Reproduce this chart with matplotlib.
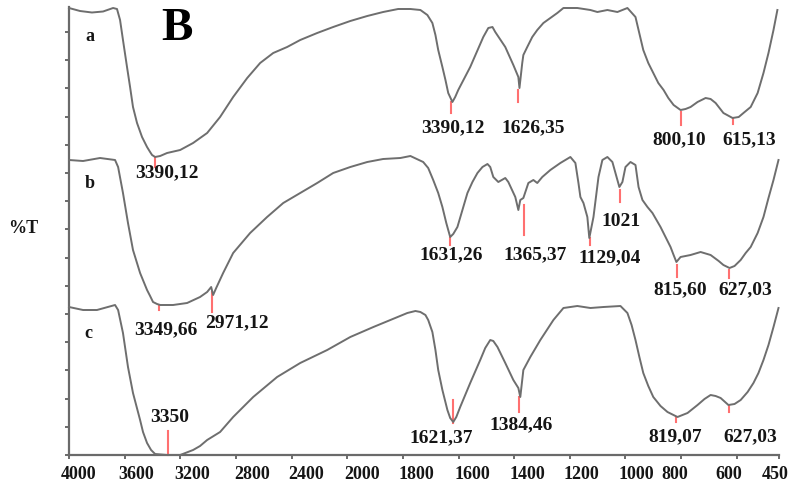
import numpy as np
import matplotlib
matplotlib.use("Agg")
import matplotlib.pyplot as plt
from matplotlib.transforms import ScaledTranslation

# ---- FTIR spectra: wavenumber (cm-1) and stacked transmittance (arbitrary units)
wn_a = [4000, 3921, 3835, 3755, 3683, 3655, 3633, 3612, 3583, 3561, 3540, 3511, 3475,
        3439, 3417, 3403, 3381, 3345, 3295, 3201, 3108, 3007, 2914, 2820, 2719, 2626,
        2532, 2432, 2338, 2216, 2101, 1989, 1928, 1871, 1817, 1773, 1737, 1712, 1694,
        1683, 1673, 1658, 1647, 1637, 1622, 1612, 1601, 1558, 1511, 1493, 1478, 1468,
        1432, 1403, 1385, 1381, 1371, 1367, 1353, 1335, 1317, 1295, 1270, 1245, 1223,
        1173, 1126, 1101, 1065, 1029, 993, 964, 953, 936, 918, 900, 882, 863, 846, 827,
        802, 784, 766, 741, 712, 694, 676, 648, 615, 593, 576, 550, 525, 504, 486, 468,
        454]
t_a = [447, 444, 442.5, 443.5, 447, 446, 435, 415, 388, 368, 348, 332, 318,
       308, 303, 300, 298, 299, 302, 305, 312, 322, 338, 358, 377, 392,
       402, 408, 415, 422, 428, 434, 439, 443, 446, 446, 445, 440, 432,
       420, 405, 388, 375, 362, 353, 358, 365, 388, 418, 427, 428, 423,
       408, 390, 378, 367, 392, 400, 408, 418, 425, 432, 437, 442, 447,
       447, 445, 443, 445, 443, 447, 438, 425, 405, 392, 382, 372, 365, 357, 350,
       345, 346, 348, 353, 357, 356, 352, 342, 337, 338, 342, 348, 362, 382, 402, 425,
       445]

wn_b = [4000, 3899, 3777, 3669, 3647, 3612, 3576, 3540, 3489, 3439, 3417, 3396, 3367,
        3345, 3252, 3151, 3058, 3007, 2978, 2964, 2942, 2892, 2820, 2698, 2576, 2460,
        2338, 2216, 2101, 1989, 1928, 1871, 1809, 1773, 1727, 1709, 1691, 1673, 1658,
        1644, 1630, 1619, 1604, 1586, 1568, 1550, 1532, 1514, 1496, 1486, 1475, 1457,
        1432, 1421, 1396, 1385, 1378, 1367, 1349, 1331, 1317, 1299, 1270, 1234, 1198,
        1180, 1169, 1162, 1151, 1137, 1130, 1115, 1097, 1083, 1065, 1047, 1036, 1022,
        1011, 1000, 982, 964, 953, 939, 921, 903, 874, 856, 838, 827, 817, 802, 766,
        730, 694, 665, 648, 626, 608, 586, 568, 550, 525, 504, 486, 468, 450]
t_b = [295, 294, 297, 295, 288, 262, 232, 205, 182, 165, 159, 153, 151,
       150, 150, 152, 158, 163, 168, 160, 167, 182, 202, 222, 238, 252,
       262, 272, 282, 288, 293, 296, 297, 299, 293, 287, 275, 262, 248,
       232, 218, 221, 228, 245, 262, 273, 282, 288, 291, 288, 278, 273,
       277, 273, 258, 245, 255, 257, 272, 275, 272, 278, 285, 292, 298,
       292, 272, 258, 252, 238, 217, 238, 278, 295, 298, 293, 282, 268,
       273, 288, 293, 290, 268, 255, 248, 242, 228, 218, 208, 200, 193, 198, 200,
       203, 200, 194, 190, 187, 189, 195, 202, 208, 222, 238, 257, 275, 295]

wn_c = [4000, 3899, 3799, 3669, 3647, 3612, 3576, 3540, 3489, 3468, 3439, 3410, 3381,
        3295, 3201, 3108, 3058, 3007, 2914, 2820, 2676, 2504, 2338, 2144, 1989, 1906,
        1845, 1784, 1755, 1737, 1719, 1709, 1694, 1683, 1673, 1658, 1640, 1630, 1619,
        1608, 1594, 1558, 1522, 1504, 1486, 1475, 1460, 1432, 1403, 1385, 1378, 1367,
        1342, 1306, 1259, 1223, 1173, 1126, 1079, 1018, 993, 978, 964, 950, 936, 918,
        900, 874, 849, 813, 777, 741, 716, 694, 676, 658, 630, 608, 586, 561, 540, 522,
        504, 486, 468, 450]
t_c = [148, 145, 145, 150, 145, 122, 88, 62, 35, 23, 12, 5, 1,
       0, 0, 5, 9, 15, 23, 38, 58, 78, 92, 105, 118, 128,
       135, 142, 144, 143, 140, 135, 123, 105, 85, 65, 45, 37, 33,
       38, 48, 72, 95, 107, 115, 114, 108, 92, 75, 67, 58, 85,
       98, 115, 135, 147, 149, 147, 148, 149, 142, 130, 115, 98, 82, 69,
       58, 49, 43, 38, 42, 50, 56, 60, 59, 57, 50, 51, 55, 63, 72, 82,
       95, 110, 128, 147]

# ---- assigned bands: marker position (cm-1) and printed label
peaks_a = [3381, 1626, 1385, 802, 615]
labels_a = ["3390,12", "3390,12", "1626,35", "800,10", "615,13"]
peaks_b = [3349.66, 2971.12, 1631.26, 1365.37, 1129.04, 1021, 815.60, 627.03]
labels_b = ["3349,66", "2971,12", "1631,26", "1365,37", "1129,04", "1021", "815,60", "627,03"]
peaks_c = [3290, 1621.37, 1384.46, 819.07, 627.03]
labels_c = ["3350", "1621,37", "1384,46", "819,07", "627,03"]

x_ticks = [4000, 3600, 3200, 2800, 2400, 2000, 1800, 1600, 1400, 1200, 1000, 800, 600, 450]

# ---- layout: marker spans (bottom, top) and label anchor (x, y) in data units
span_a = [(288, 298), (342, 353), (353, 365), (330, 343), (331, 337)]
text_a = [(3295, 282), (1619, 327), (1331, 327), (806, 315), (554, 315)]
span_b = [(145, 150), (143, 163), (210, 217), (220, 250), (210, 217), (253, 265), (178, 190), (177, 185)]
text_b = [(3302, 125), (2791, 132), (1626, 200), (1324, 200), (1058, 197), (1015, 234), (802, 165), (568, 165)]
span_c = [(0, 24), (32, 55), (43, 58), (33, 38), (43, 49)]
text_c = [(3273, 38), (1662, 17), (1374, 30), (820, 18), (550, 18)]
tick_shift_px = [10, 12, 12, 16, 15, 15, 14, 14, 13, 12, 11, -6, -8, -3]


def fwd(x):
    x = np.asarray(x, dtype=float)
    return np.where(x > 2000, 2000 + (x - 2000) / 2.0, x)


def inv(y):
    y = np.asarray(y, dtype=float)
    return np.where(y > 2000, 2000 + (y - 2000) * 2.0, y)


SERIF = "Liberation Serif"
LINE = "#6e6e6e"
RED = "#ff7070"
INK = "#151515"

fig = plt.figure(figsize=(7.88, 4.90), dpi=100)
ax = fig.add_axes([69 / 788, 35 / 490, 709.5 / 788, 448 / 490])
ax.set_xscale("function", functions=(fwd, inv))
ax.set_xlim(4000, 450)
ax.set_ylim(0, 448)

for wn, t in ((wn_a, t_a), (wn_b, t_b), (wn_c, t_c)):
    ax.plot(wn, t, color=LINE, lw=1.4, solid_joinstyle="round", clip_on=False, zorder=3)

for peaks, spans, texts, labels in ((peaks_a, span_a, text_a, labels_a),
                                    (peaks_b, span_b, text_b, labels_b),
                                    (peaks_c, span_c, text_c, labels_c)):
    for p, (y0, y1), (tx, ty), lab in zip(peaks, spans, texts, labels):
        ax.plot([p, p], [y0, y1], color=RED, lw=1.5, zorder=2, clip_on=False)
        ax.text(tx, ty, lab, ha="center", va="center", fontsize=14,
                fontfamily=SERIF, fontweight="bold", color=INK)

for name, (tx, ty) in zip("abc", [(3849, 419), (3849, 272), (3863, 122)]):
    ax.text(tx, ty, name, ha="center", va="center", fontsize=13,
            fontfamily=SERIF, fontweight="bold", color=INK)

for side in ("top", "right"):
    ax.spines[side].set_visible(False)
for side in ("left", "bottom"):
    ax.spines[side].set_color("#6a6a6a")
    ax.spines[side].set_linewidth(1.6)

ax.set_xticks(x_ticks)
ax.set_xticklabels([str(v) for v in x_ticks])
ax.set_yticks(np.arange(0, 448, 28.2))
ax.set_yticklabels([])
ax.tick_params(axis="both", direction="out", length=3, width=1.4, color="#6a6a6a")
ax.tick_params(axis="x", pad=5, labelsize=13)
for lab, dx in zip(ax.get_xticklabels(), tick_shift_px):
    lab.set_fontfamily(SERIF)
    lab.set_fontweight("bold")
    lab.set_color(INK)
    lab.set_transform(lab.get_transform() + ScaledTranslation(dx / 100, 0, fig.dpi_scale_trans))

fig.text(23 / 788, 1 - 228 / 490, "%T", ha="center", va="center", fontsize=13,
         fontfamily=SERIF, fontweight="bold", color=INK)
fig.text(177 / 788, 1 - 29 / 490, "B", ha="center", va="center", fontsize=34,
         fontfamily=SERIF, fontweight="bold", color="black")

fig.savefig("out.png", dpi=100)
